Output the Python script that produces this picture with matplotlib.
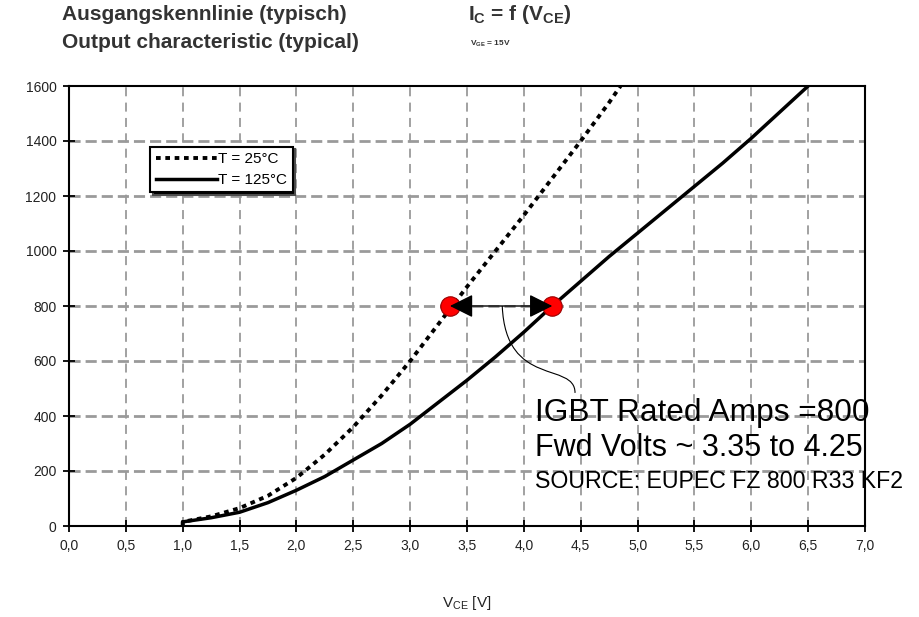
import matplotlib
matplotlib.use('Agg')
import matplotlib.pyplot as plt
from matplotlib.path import Path
from matplotlib.patches import PathPatch

plt.rcParams['font.family'] = ['Liberation Sans', 'DejaVu Sans']
plt.rcParams['mathtext.default'] = 'regular'

# output characteristic, V_GE = 15 V
vce_25 = [1.0, 1.0, 1.25, 1.5, 1.75, 2.0, 2.25, 2.5, 2.75, 3.0, 3.25, 3.5,
          3.75, 4.0, 4.25, 4.5, 4.75, 4.85]
ic_25 = [0, 15, 35, 65, 110, 175, 260, 360, 475, 600, 735, 870,
         1000, 1130, 1265, 1400, 1540, 1600]

vce_125 = [1.0, 1.0, 1.25, 1.5, 1.75, 2.0, 2.25, 2.5, 2.75, 3.0, 3.25, 3.5,
           3.75, 4.0, 4.25, 4.5, 4.75, 5.0, 5.25, 5.5, 5.75, 6.0, 6.25, 6.5]
ic_125 = [0, 15, 30, 50, 85, 130, 180, 240, 300, 370, 450, 530,
          615, 705, 800, 890, 980, 1065, 1150, 1235, 1320, 1410, 1505, 1600]

rated_amps = 800
fwd_volts = [3.35, 4.25]

x_ticks = [i * 0.5 for i in range(15)]
x_ticklabels = [f'{v:.1f}'.replace('.', ',') for v in x_ticks]
y_ticks = list(range(0, 1601, 200))

fig = plt.figure(figsize=(9.2, 6.17), dpi=100)
ax = fig.add_axes([69 / 920, 1 - 526 / 617, (865 - 69) / 920, (526 - 86) / 617])

ax.set_xlim(0, 7)
ax.set_ylim(0, 1600)
ax.set_xticks(x_ticks)
ax.set_xticklabels(x_ticklabels)
ax.set_yticks(y_ticks)
ax.tick_params(direction='inout', length=8, width=1.3, labelsize=10, pad=5,
               labelcolor='#222222')

for x in x_ticks[1:-1]:
    ax.axvline(x, color='#9a9a9a', lw=1.3, dashes=(5, 3.5), zorder=1)
for y in y_ticks[1:-1]:
    ax.axhline(y, color='#9a9a9a', lw=2, dashes=(4, 1.8), zorder=1)

for s in ax.spines.values():
    s.set_linewidth(1.5)

ax.plot(vce_25, ic_25, color='black', lw=2.8, dashes=(1.2, 1.2),
        label='T = 25°C', zorder=3)
ax.plot(vce_125, ic_125, color='black', lw=2.5, label='T = 125°C', zorder=3)

leg = ax.legend(loc='upper left', bbox_to_anchor=(0.102, 0.862), fontsize=11,
                handlelength=4.0, handletextpad=0.1, borderpad=0.35,
                labelspacing=0.45, fancybox=False, borderaxespad=0,
                shadow={'facecolor': 'black', 'alpha': 1})
leg.get_frame().set_edgecolor('black')
leg.get_frame().set_linewidth(1.5)

# rated current markers and arrow
ax.annotate('', xy=(fwd_volts[0], rated_amps), xytext=(fwd_volts[1], rated_amps),
            arrowprops=dict(arrowstyle='<|-|>', color='black', lw=1,
                            mutation_scale=36, shrinkA=0, shrinkB=0), zorder=6)
ax.plot(fwd_volts, [rated_amps] * 2, 'o', ms=14, mfc='red', mec='#990000',
        mew=0.8, zorder=5)

# connector from the arrow to the note
verts = [(3.81, 800), (3.84, 500), (4.45, 600), (4.45, 484)]
codes = [Path.MOVETO, Path.CURVE4, Path.CURVE4, Path.CURVE4]
ax.add_patch(PathPatch(Path(verts, codes), fc='none', ec='black', lw=0.8, zorder=4))

fig.text(535 / 920, 1 - 413 / 617, 'IGBT Rated Amps =800', fontsize=22.8, va='center')
fig.text(535 / 920, 1 - 448 / 617, 'Fwd Volts ~ 3.35 to 4.25', fontsize=22, va='center')
fig.text(535 / 920, 1 - 482 / 617, 'SOURCE: EUPEC FZ 800 R33 KF2', fontsize=16.7, va='center')

fig.text(62 / 920, 1 - 15 / 617, 'Ausgangskennlinie (typisch)', fontsize=15,
         fontweight='bold', color='#333333', va='center')
fig.text(62 / 920, 1 - 43 / 617, 'Output characteristic (typical)', fontsize=15,
         fontweight='bold', color='#333333', va='center')
fig.text(468 / 920, 1 - 15 / 617, r'I$_{C}$ = f (V$_{CE}$)', fontsize=15,
         fontweight='bold', color='#333333', va='center')
fig.text(470 / 920, 1 - 44 / 617, r'V$_{GE}$ = 15V', fontsize=6,
         fontweight='bold', color='#333333', va='center')
fig.text(467 / 920, 1 - 603 / 617, r'V$_{CE}$ [V]', fontsize=11,
         color='#222222', va='center', ha='center')

fig.savefig('out.png', dpi=100)
